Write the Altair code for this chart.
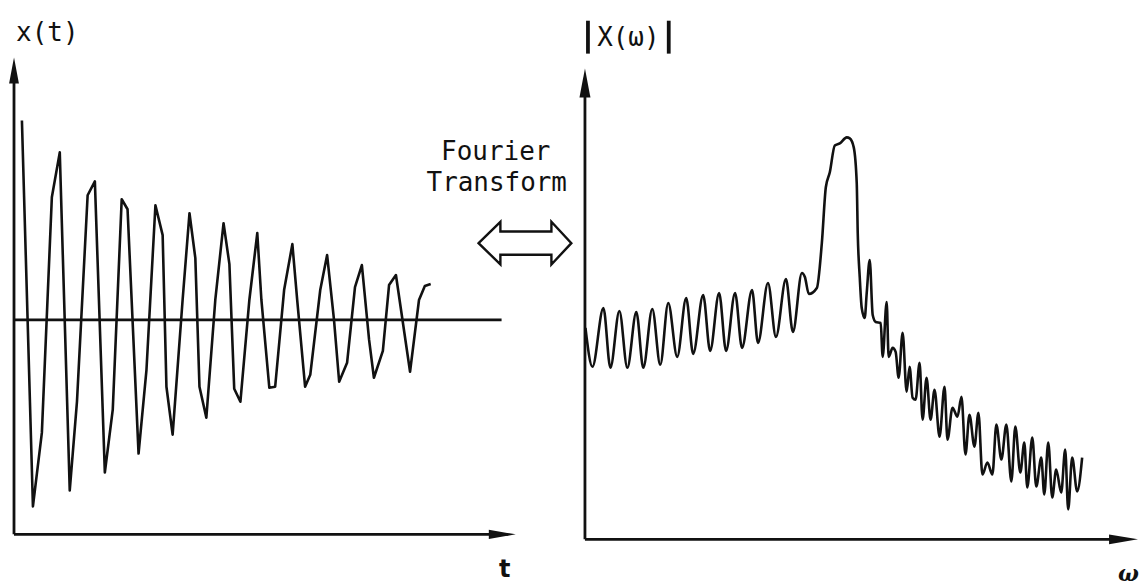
import altair as alt
import pandas as pd

# ---- x(t): damped oscillation, vertices as (time, amplitude) ----
t_vals = [0.26, 0.58, 0.84, 1.13, 1.36, 1.65, 1.86, 2.17, 2.38, 2.67, 2.90, 3.16,
          3.33, 3.65, 3.88, 4.14, 4.35, 4.46, 4.64, 4.93, 5.13, 5.30, 5.42, 5.62,
          5.88, 6.12, 6.29, 6.43, 6.61, 6.87, 7.10, 7.22, 7.45, 7.62, 7.88, 8.12,
          8.26, 8.49, 8.64, 8.93, 9.13, 9.33, 9.48, 9.71, 9.94, 10.14, 10.35, 10.49,
          10.75, 10.93, 11.13, 11.54, 11.80, 11.97, 12.14]
x_vals = [1.00, -0.935, -0.565, 0.615, 0.84, -0.855, -0.41, 0.625, 0.695, -0.765, -0.45, 0.605,
          0.555, -0.67, -0.25, 0.575, 0.425, -0.335, -0.575, 0.10, 0.535, 0.31, -0.335, -0.49,
          0.10, 0.485, 0.28, -0.345, -0.41, 0.10, 0.435, 0.10, -0.34, -0.335, 0.15, 0.38,
          0.10, -0.335, -0.275, 0.15, 0.325, 0.0, -0.31, -0.215, 0.165, 0.275, -0.10, -0.29,
          -0.155, 0.175, 0.225, -0.26, 0.10, 0.17, 0.18]

# ---- |X(omega)|: magnitude spectrum, vertices as (omega, magnitude) ----
w_vals = [0.04, 0.18, 0.40, 0.54, 0.72, 0.88, 1.06, 1.20, 1.38, 1.54, 1.70, 1.88,
          2.06, 2.20, 2.40, 2.54, 2.72, 2.86, 3.04, 3.18, 3.38, 3.50, 3.70, 3.86,
          4.06, 4.20, 4.38, 4.44, 4.52, 4.68, 4.78, 4.86, 4.94, 5.04, 5.14, 5.28,
          5.34, 5.42, 5.48, 5.50, 5.54, 5.58, 5.64, 5.68, 5.74, 5.80, 5.86, 5.96,
          6.00, 6.08, 6.12, 6.20, 6.26, 6.32, 6.40, 6.48, 6.54, 6.60, 6.66, 6.74,
          6.80, 6.88, 6.96, 7.04, 7.14, 7.24, 7.30, 7.40, 7.50, 7.58, 7.66, 7.74,
          7.84, 7.92, 8.00, 8.10, 8.20, 8.28, 8.38, 8.48, 8.58, 8.66, 8.76, 8.84,
          8.90, 9.00, 9.08, 9.18, 9.24, 9.32, 9.40, 9.48, 9.58, 9.66, 9.72, 9.80,
          9.90, 10.00]
m_vals = [0.53, 0.4325, 0.58, 0.43, 0.5725, 0.43, 0.57, 0.43, 0.5775, 0.4375, 0.5925, 0.4575,
          0.605, 0.465, 0.6125, 0.4725, 0.6175, 0.4725, 0.6175, 0.48, 0.625, 0.4925, 0.6425, 0.5075,
          0.6525, 0.52, 0.6675, 0.6575, 0.615, 0.63, 0.7425, 0.8825, 0.92, 0.9875, 0.9925, 1.0075,
          1.005, 0.9825, 0.8925, 0.7675, 0.6575, 0.58, 0.555, 0.6175, 0.70, 0.5625, 0.545, 0.5425,
          0.4575, 0.595, 0.4575, 0.48, 0.47, 0.405, 0.5175, 0.37, 0.4325, 0.355, 0.35, 0.4425,
          0.30, 0.405, 0.30, 0.375, 0.2575, 0.3825, 0.25, 0.33, 0.3075, 0.3575, 0.2125, 0.3125,
          0.2325, 0.3175, 0.1625, 0.1925, 0.1625, 0.2875, 0.20, 0.2875, 0.145, 0.2825, 0.1675, 0.2425,
          0.13, 0.255, 0.1325, 0.205, 0.1125, 0.2425, 0.105, 0.175, 0.1175, 0.225, 0.075, 0.205,
          0.12, 0.205]

MONO = "DejaVu Sans Mono"
INK = "#111111"
CURVE_W = 2.6
AXIS_W = 2.8

# arrowhead outlines (unit box, scaled by the point size)
UP_HEAD = "M0,-1L0.38,1L-0.38,1Z"
RIGHT_HEAD = "M1,0L-1,-0.34L-1,0.34Z"
DOUBLE_ARROW = ("M-1,0L-0.53,-0.46L-0.53,-0.25L0.57,-0.25L0.57,-0.46L1,0"
                "L0.57,0.46L0.57,0.25L-0.53,0.25L-0.53,0.46Z")

# ---------------- left panel: time domain ----------------
XL = alt.Scale(domain=[-0.377, 16.435], nice=False, zero=False)
YL = alt.Scale(domain=[-1.325, 1.6], nice=False, zero=False)


def lx(field):
    return alt.X(field, type="quantitative", scale=XL, axis=None)


def ly(field):
    return alt.Y(field, type="quantitative", scale=YL, axis=None)


signal = alt.Chart(pd.DataFrame({"t": t_vals, "x": x_vals})).mark_line(
    color=INK, strokeWidth=CURVE_W, strokeJoin="round"
).encode(x=lx("t"), y=ly("x"))

left_rules_df = pd.DataFrame({
    "t0": [0.03, 0.03, 0.03],
    "t1": [14.2, 14.4, 0.03],
    "a0": [0.0, -1.075, -1.075],
    "a1": [0.0, -1.075, 1.2],
})
left_rules = alt.Chart(left_rules_df).mark_rule(color=INK, strokeWidth=AXIS_W).encode(
    x=lx("t0"), x2="t1", y=ly("a0"), y2="a1"
)

left_up = alt.Chart(pd.DataFrame({"t": [0.03], "a": [1.25]})).mark_point(
    shape=UP_HEAD, filled=True, size=676, color=INK, opacity=1
).encode(x=lx("t"), y=ly("a"))

left_right = alt.Chart(pd.DataFrame({"t": [14.22], "a": [-1.075]})).mark_point(
    shape=RIGHT_HEAD, filled=True, size=729, color=INK, opacity=1
).encode(x=lx("t"), y=ly("a"))

transform_arrow = alt.Chart(pd.DataFrame({"t": [14.88], "a": [0.385]})).mark_point(
    shape=DOUBLE_ARROW, filled=False, size=8649, color=INK, strokeWidth=2.4, opacity=1
).encode(x=lx("t"), y=ly("a"))

xt_label = alt.Chart(pd.DataFrame({"t": [0.09], "a": [1.40], "s": ["x(t)"]})).mark_text(
    font=MONO, fontSize=26, align="left", baseline="alphabetic", color=INK
).encode(x=lx("t"), y=ly("a"), text="s")

t_label = alt.Chart(pd.DataFrame({"t": [14.29], "a": [-1.29], "s": ["t"]})).mark_text(
    font="DejaVu Sans", fontSize=24, fontWeight="bold", align="center",
    baseline="alphabetic", color=INK
).encode(x=lx("t"), y=ly("a"), text="s")

ft_label = alt.Chart(pd.DataFrame({
    "t": [14.03, 14.06], "a": [0.80, 0.645], "s": ["Fourier", "Transform"]
})).mark_text(
    font=MONO, fontSize=26, align="center", baseline="alphabetic", color=INK
).encode(x=lx("t"), y=ly("a"), text="s")

left = alt.layer(
    left_rules, signal, left_up, left_right, transform_arrow, xt_label, t_label, ft_label
).properties(width=580, height=585)

# ---------------- right panel: frequency domain ----------------
XR = alt.Scale(domain=[-0.06, 11.12], nice=False, zero=False)
YR = alt.Scale(domain=[-0.1125, 1.35], nice=False, zero=False)


def rx(field):
    return alt.X(field, type="quantitative", scale=XR, axis=None)


def ry(field):
    return alt.Y(field, type="quantitative", scale=YR, axis=None)


spectrum = alt.Chart(pd.DataFrame({"w": w_vals, "m": m_vals})).mark_line(
    color=INK, strokeWidth=CURVE_W, strokeJoin="round", interpolate="monotone"
).encode(x=rx("w"), y=ry("m"))

right_rules_df = pd.DataFrame({
    "w0": [0.03, 0.03],
    "w1": [10.9, 0.03],
    "m0": [0.0, 0.0],
    "m1": [0.0, 1.11],
})
right_rules = alt.Chart(right_rules_df).mark_rule(color=INK, strokeWidth=AXIS_W).encode(
    x=rx("w0"), x2="w1", y=ry("m0"), y2="m1"
)

right_up = alt.Chart(pd.DataFrame({"w": [0.03], "m": [1.144]})).mark_point(
    shape=UP_HEAD, filled=True, size=841, color=INK, opacity=1
).encode(x=rx("w"), y=ry("m"))

right_right = alt.Chart(pd.DataFrame({"w": [10.83], "m": [0.0]})).mark_point(
    shape=RIGHT_HEAD, filled=True, size=841, color=INK, opacity=1
).encode(x=rx("w"), y=ry("m"))

# norm bars around the spectrum label
norm_bars = alt.Chart(pd.DataFrame({
    "w": [0.09, 1.71], "m0": [1.2175, 1.2175], "m1": [1.30, 1.30]
})).mark_rule(color=INK, strokeWidth=3.8).encode(x=rx("w"), y=ry("m0"), y2="m1")

xw_label = alt.Chart(pd.DataFrame({"w": [0.90], "m": [1.2375], "s": ["X(ω)"]})).mark_text(
    font=MONO, fontSize=26, align="center", baseline="alphabetic", color=INK
).encode(x=rx("w"), y=ry("m"), text="s")

w_label = alt.Chart(pd.DataFrame({"w": [10.72], "m": [-0.105], "s": ["ω"]})).mark_text(
    font="DejaVu Serif", fontSize=22, fontStyle="italic", fontWeight="bold", align="left",
    baseline="alphabetic", color=INK
).encode(x=rx("w"), y=ry("m"), text="s")

right = alt.layer(
    right_rules, spectrum, right_up, right_right, norm_bars, xw_label, w_label
).properties(width=559, height=585)

chart = alt.hconcat(left, right, spacing=0).properties(
    padding=0, background="white"
).configure_view(stroke=None)

chart.save("out.html", embed_options={"renderer": "svg", "actions": False})
